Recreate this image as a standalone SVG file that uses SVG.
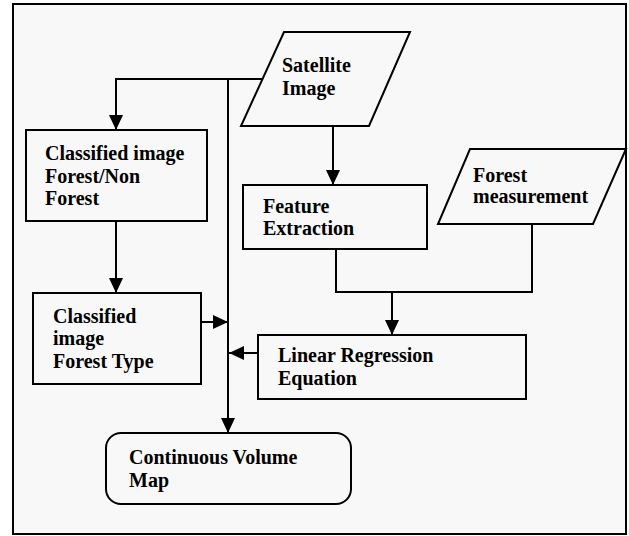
<svg xmlns="http://www.w3.org/2000/svg" width="629" height="536" viewBox="0 0 629 536">
<defs>
<style>
.n{fill:none;stroke:#000;stroke-width:2}
.c{fill:none;stroke:#000;stroke-width:2}
text{font-family:"Liberation Serif","Times New Roman",serif;font-weight:bold;font-size:20px;fill:#000}
</style>
<marker id="ah" viewBox="0 0 15 14" refX="15" refY="7" markerWidth="15" markerHeight="14" markerUnits="userSpaceOnUse" orient="auto">
<path d="M0,0 L15,7 L0,14 z" fill="#000"/>
</marker>
</defs>
<rect x="0" y="0" width="629" height="536" fill="#fff"/>
<rect x="13" y="4" width="613" height="530" fill="#f8f8f8" stroke="#000" stroke-width="2"/>
<g id="satellite">
<polygon class="n" points="284,32 410,32 369,126 241,126"/>
<text x="282" y="72">Satellite</text>
<text x="282" y="95">Image</text>
</g>
<g id="classified-fnf">
<rect class="n" x="26" y="130" width="181" height="91"/>
<text x="45" y="160">Classified image</text>
<text x="45" y="183">Forest/Non</text>
<text x="45" y="205">Forest</text>
</g>
<g id="classified-type">
<rect class="n" x="33" y="293" width="168" height="91"/>
<text x="53" y="323">Classified</text>
<text x="53" y="345">image</text>
<text x="53" y="368">Forest Type</text>
</g>
<g id="feature">
<rect class="n" x="243" y="185" width="184" height="64"/>
<text x="263" y="213">Feature</text>
<text x="263" y="235">Extraction</text>
</g>
<g id="forest-measurement">
<polygon class="n" points="470,149 626,149 593,224 438,224"/>
<text x="473" y="182">Forest</text>
<text x="473" y="203">measurement</text>
</g>
<g id="regression">
<rect class="n" x="258" y="335" width="268" height="64"/>
<text x="278" y="362">Linear Regression</text>
<text x="278" y="385">Equation</text>
</g>
<g id="volume-map">
<rect class="n" x="106" y="433" width="245" height="71" rx="15" ry="15"/>
<text x="129" y="464">Continuous Volume</text>
<text x="129" y="487">Map</text>
</g>
<g id="connectors">
<polyline class="c" points="262,79 116,79 116,130" marker-end="url(#ah)"/>
<polyline class="c" points="228,79 228,433" marker-end="url(#ah)"/>
<line class="c" x1="116" y1="221" x2="116" y2="293" marker-end="url(#ah)"/>
<line class="c" x1="201" y1="322" x2="228" y2="322" marker-end="url(#ah)"/>
<line class="c" x1="333" y1="126" x2="333" y2="185" marker-end="url(#ah)"/>
<polyline class="c" points="336,249 336,292 532,292 532,224"/>
<line class="c" x1="392" y1="292" x2="392" y2="335" marker-end="url(#ah)"/>
<line class="c" x1="258" y1="353" x2="229" y2="353" marker-end="url(#ah)"/>
</g>
</svg>
